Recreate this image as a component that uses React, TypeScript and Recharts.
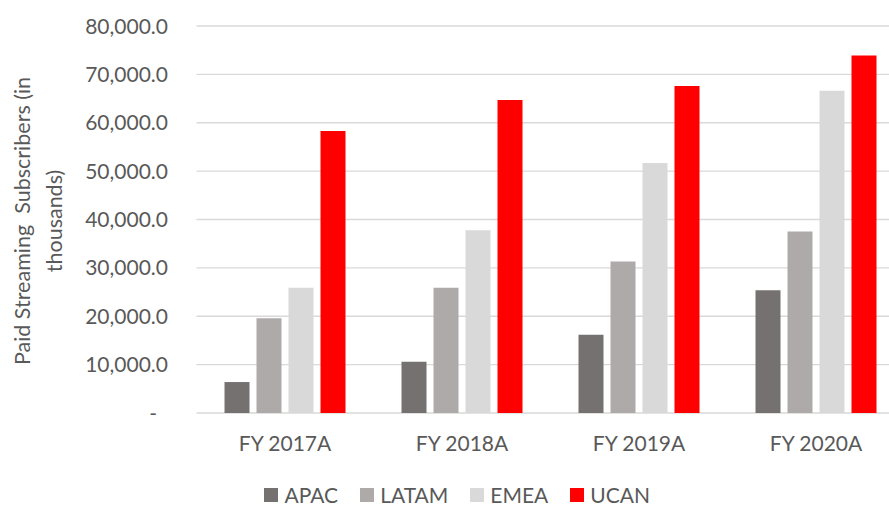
import { Bar, BarChart, CartesianGrid, Legend, XAxis, YAxis } from 'recharts';

const years = ['FY 2017A', 'FY 2018A', 'FY 2019A', 'FY 2020A'];

// paid subscribers by region, in thousands
const apac = [6400, 10600, 16200, 25400];
const latam = [19600, 25900, 31300, 37500];
const emea = [25900, 37800, 51700, 66600];
const ucan = [58300, 64700, 67600, 73900];

const yTicks = [0, 10000, 20000, 30000, 40000, 50000, 60000, 70000, 80000];

const regions = [
  { key: 'APAC', color: '#767171' },
  { key: 'LATAM', color: '#AEAAAA' },
  { key: 'EMEA', color: '#D9D9D9' },
  { key: 'UCAN', color: '#FF0000' },
];

const data = years.map((year, i) => ({
  year,
  APAC: apac[i],
  LATAM: latam[i],
  EMEA: emea[i],
  UCAN: ucan[i],
}));

const FONT = 'Lato, "Open Sans", sans-serif';
const TEXT = '#595959';

// accounting style: zero shows as a dash
const formatValue = (v: number) =>
  v === 0 ? '-' : v.toLocaleString('en-US', { minimumFractionDigits: 1, maximumFractionDigits: 1 });

function ValueTick({ x, y, payload }: any) {
  const v = payload.value as number;
  return (
    <text
      x={x}
      y={y}
      dx={v === 0 ? -11 : 0}
      dy="0.36em"
      textAnchor="end"
      fill={TEXT}
      fontSize={21}
      fontFamily={FONT}
    >
      {formatValue(v)}
    </text>
  );
}

function AxisTitle() {
  return (
    <text
      transform="translate(0,221) rotate(-90)"
      textAnchor="middle"
      fill={TEXT}
      fontSize={21.5}
      fontFamily={FONT}
    >
      <tspan x={0} y={30}>
        Paid Streaming{'\u00a0\u00a0'}Subscribers (in
      </tspan>
      <tspan x={0} y={62}>
        thousands)
      </tspan>
    </text>
  );
}

function RegionLegend() {
  return (
    <div
      style={{
        display: 'flex',
        justifyContent: 'center',
        alignItems: 'center',
        height: 34,
        paddingTop: 9,
        paddingLeft: 10,
        boxSizing: 'border-box',
        fontFamily: FONT,
        fontSize: 21,
        color: TEXT,
      }}
    >
      {regions.map((r) => (
        <div key={r.key} style={{ display: 'flex', alignItems: 'center', margin: '0 11px' }}>
          <span style={{ width: 14, height: 14, background: r.color, marginRight: 6 }} />
          <span style={{ lineHeight: '25px' }}>{r.key}</span>
        </div>
      ))}
    </div>
  );
}

export default function App() {
  return (
    <div
      style={{
        position: 'absolute',
        top: 0,
        left: 0,
        width: 889,
        height: 507,
        overflow: 'hidden',
        background: '#fff',
      }}
    >
      <BarChart
        width={905}
        height={507}
        data={data}
        margin={{ top: 26, right: 0.5, left: 0, bottom: 0 }}
        barSize={25}
        barGap={7}
      >
        <CartesianGrid vertical={false} stroke="#D9D9D9" strokeWidth={1.3} />
        <XAxis
          dataKey="year"
          height={60}
          axisLine={false}
          tickLine={false}
          tickSize={0}
          tickMargin={23}
          tick={{ fill: TEXT, fontSize: 21, fontFamily: FONT }}
        />
        <YAxis
          width={196.5}
          domain={[0, 80000]}
          ticks={yTicks}
          axisLine={false}
          tickLine={false}
          tickSize={0}
          tickMargin={28.5}
          tick={<ValueTick />}
          label={<AxisTitle />}
        />
        <Legend verticalAlign="bottom" height={34} content={<RegionLegend />} />
        {regions.map((r) => (
          <Bar key={r.key} dataKey={r.key} fill={r.color} isAnimationActive={false} />
        ))}
      </BarChart>
    </div>
  );
}
